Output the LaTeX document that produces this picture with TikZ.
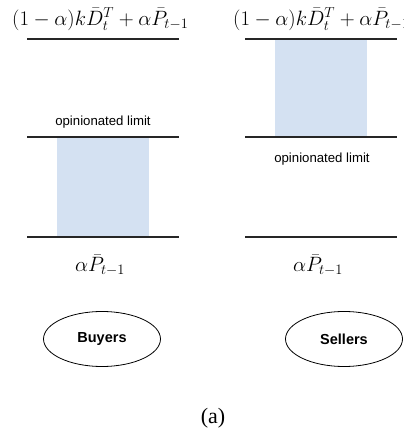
\documentclass[tikz,border=0pt]{standalone}
\usepackage{fontspec}
\usepackage{amsmath}
\setsansfont{Liberation Sans}
\newfontfamily\timesfont{Liberation Serif}
\usetikzlibrary{shapes.geometric}
\definecolor{bandblue}{RGB}{212,225,242}
\tikzset{
  level/.style={line width=1.4pt, draw=black!85},
  band/.style={fill=bandblue, draw=none},
  formula/.style={inner sep=0pt, font=\fontsize{22}{24}\selectfont},
  limitlabel/.style={inner sep=0pt, font=\sffamily\fontsize{13.2}{15}\selectfont},
  agent/.style={ellipse, draw, line width=0.8pt, minimum width=117pt, minimum height=55pt, inner sep=0pt, font=\sffamily\bfseries\fontsize{14.5}{16}\selectfont},
}
\begin{document}
\begin{tikzpicture}[x=1pt,y=1pt]
\useasboundingbox (0,0) rectangle (403,443);
\clip (0,0) rectangle (403,443);
% bands
\fill[band] (57,206) rectangle (149,306);
\fill[band] (275,306) rectangle (367,404);
% level lines
\coordinate (l1a) at (27,404); \coordinate (l1b) at (179,404);
\coordinate (l2a) at (27,306); \coordinate (l2b) at (179,306);
\coordinate (l3a) at (27,206); \coordinate (l3b) at (179,206);
\coordinate (r1a) at (245,404); \coordinate (r1b) at (397,404);
\coordinate (r2a) at (245,306); \coordinate (r2b) at (397,306);
\coordinate (r3a) at (245,206); \coordinate (r3b) at (397,206);
\draw[level] (l1a) -- (l1b);
\draw[level] (l2a) -- (l2b);
\draw[level] (l3a) -- (l3b);
\draw[level] (r1a) -- (r1b);
\draw[level] (r2a) -- (r2b);
\draw[level] (r3a) -- (r3b);
% formulas
\node[formula, anchor=west] (ftl) at (12,424) {$(1-\alpha)k\bar{D}_t^T+\alpha\bar{P}_{t-1}$};
\node[formula, anchor=west] (ftr) at (233,424) {$(1-\alpha)k\bar{D}_t^T+\alpha\bar{P}_{t-1}$};
\node[formula] (fbl) at (100,178) {$\alpha\bar{P}_{t-1}$};
\node[formula] (fbr) at (318,178) {$\alpha\bar{P}_{t-1}$};
% limit labels
\node[limitlabel] (oll) at (103,321) {opinionated limit};
\node[limitlabel] (olr) at (322,284) {opinionated limit};
% agents
\node[agent] (buyers) at (102,104) {Buyers};
\node[agent] (sellers) at (344,104) {Sellers};
% caption
\node[inner sep=0pt, font=\timesfont\fontsize{22}{24}\selectfont] (cap) at (213,25) {(a)};
\end{tikzpicture}
\end{document}
